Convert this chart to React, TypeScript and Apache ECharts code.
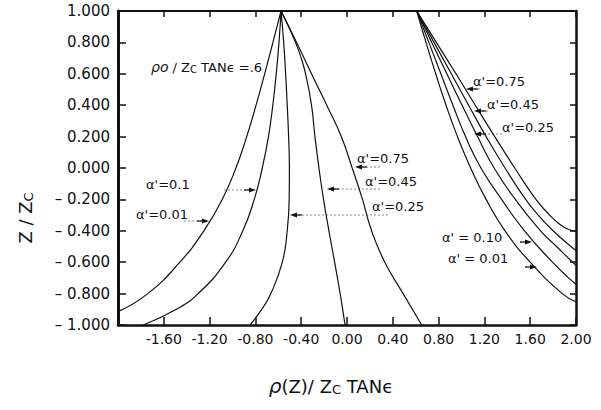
import React, { useEffect, useRef } from "react";
import * as echarts from "echarts";

// ---- axis ticks ----
const X_MIN = -2;
const X_MAX = 2;
const X_STEP = 0.4;
const Y_MIN = -1;
const Y_MAX = 1;
const Y_STEP = 0.2;
const xTickLabels = ["", "-1.60", "-1.20", "-0.80", "-0.40", "0.00", "0.40", "0.80", "1.20", "1.60", "2.00"];
const yTickLabels = ["– 1.000", "– 0.800", "– 0.600", "– 0.400", "– 0.200", "0.000", "0.200", "0.400", "0.600", "0.800", "1.000"];

// ---- left family (apex near rho0 = -0.6), points are [rho/Zc tan e, Z/Zc] ----
const leftA001 = [
  [-0.576, 1.0], [-0.647, 0.8], [-0.719, 0.6], [-0.794, 0.4], [-0.876, 0.2], [-0.97, 0.0],
  [-1.09, -0.2], [-1.25, -0.4], [-1.46, -0.6], [-1.74, -0.8], [-2.0, -0.915],
];
const leftA010 = [
  [-0.576, 1.0], [-0.594, 0.8], [-0.618, 0.6], [-0.648, 0.4], [-0.686, 0.2], [-0.74, 0.0],
  [-0.81, -0.2], [-0.91, -0.4], [-1.06, -0.6], [-1.3, -0.8], [-1.49, -0.9], [-1.78, -1.0],
];
const leftA025 = [
  [-0.576, 1.0], [-0.553, 0.8], [-0.536, 0.6], [-0.522, 0.4], [-0.51, 0.2], [-0.503, 0.0],
  [-0.505, -0.2], [-0.522, -0.4], [-0.565, -0.6], [-0.665, -0.8], [-0.745, -0.9], [-0.847, -1.0],
];
const leftA045 = [
  [-0.576, 1.0], [-0.51, 0.9], [-0.45, 0.8], [-0.4, 0.7], [-0.362, 0.6], [-0.31, 0.4], [-0.28, 0.2],
  [-0.245, 0.0], [-0.205, -0.2], [-0.158, -0.4], [-0.108, -0.6], [-0.06, -0.8], [-0.017, -1.0],
];
const leftA075 = [
  [-0.576, 1.0], [-0.44, 0.8], [-0.31, 0.6], [-0.177, 0.4], [-0.05, 0.2], [0.045, 0.0],
  [0.135, -0.2], [0.215, -0.4], [0.33, -0.6], [0.49, -0.8], [0.652, -1.0],
];

// ---- right family (apex at rho0 = +0.6) ----
const rightA001 = [
  [0.609, 1.0], [0.69, 0.8], [0.775, 0.6], [0.865, 0.4], [0.965, 0.2], [1.08, 0.0],
  [1.215, -0.2], [1.38, -0.4], [1.6, -0.6], [1.88, -0.8], [2.0, -0.852],
];
const rightA010 = [
  [0.609, 1.0], [0.715, 0.8], [0.82, 0.6], [0.925, 0.4], [1.035, 0.2], [1.17, 0.0],
  [1.35, -0.2], [1.55, -0.4], [1.795, -0.6], [1.935, -0.7], [2.0, -0.74],
];
const rightA025 = [
  [0.609, 1.0], [0.74, 0.8], [0.872, 0.6], [1.005, 0.4], [1.14, 0.2], [1.285, 0.0],
  [1.47, -0.2], [1.69, -0.4], [1.83, -0.5], [1.97, -0.6], [2.0, -0.62],
];
const rightA045 = [
  [0.609, 1.0], [0.76, 0.8], [0.911, 0.6], [1.062, 0.4], [1.215, 0.2], [1.38, 0.0],
  [1.56, -0.2], [1.67, -0.3], [1.8, -0.4], [1.955, -0.5], [2.0, -0.525],
];
const rightA075 = [
  [0.609, 1.0], [0.78, 0.8], [0.952, 0.6], [1.12, 0.4], [1.29, 0.2], [1.465, 0.0],
  [1.65, -0.2], [1.77, -0.3], [1.86, -0.36], [1.93, -0.39], [2.0, -0.402],
];

const curves = [
  { name: "left α'=0.01", data: leftA001 },
  { name: "left α'=0.1", data: leftA010 },
  { name: "left α'=0.25", data: leftA025 },
  { name: "left α'=0.45", data: leftA045 },
  { name: "left α'=0.75", data: leftA075 },
  { name: "right α'=0.01", data: rightA001 },
  { name: "right α'=0.10", data: rightA010 },
  { name: "right α'=0.25", data: rightA025 },
  { name: "right α'=0.45", data: rightA045 },
  { name: "right α'=0.75", data: rightA075 },
];

// annotation labels (pixel placement) and arrows
const FONT = "DejaVu Sans";
const INK = "#111";
const labelTexts = [
  { text: "α'=0.1", x: 146, y: 184 },
  { text: "α'=0.01", x: 136, y: 214 },
  { text: "α'=0.75", x: 357, y: 158 },
  { text: "α'=0.45", x: 365, y: 181 },
  { text: "α'=0.25", x: 372, y: 206 },
  { text: "α'=0.75", x: 473, y: 81 },
  { text: "α'=0.45", x: 487, y: 104 },
  { text: "α'=0.25", x: 502, y: 127 },
  { text: "α' = 0.10", x: 442, y: 237 },
  { text: "α' = 0.01", x: 448, y: 258 },
];
const arrows = [
  { from: 224, to: 256, y: 190 },
  { from: 184, to: 209, y: 221 },
  { from: 380, to: 355, y: 167 },
  { from: 380, to: 327, y: 189 },
  { from: 388, to: 290, y: 215 },
  { from: 480, to: 466, y: 89 },
  { from: 488, to: 474, y: 111 },
  { from: 502, to: 474, y: 134 },
  { from: 520, to: 532, y: 242 },
  { from: 525, to: 537, y: 267 },
];

function tok(size: number, extra: any = {}) {
  return { fontSize: size, fontFamily: FONT, fill: INK, color: INK, ...extra };
}

function buildGraphics() {
  const g: any[] = [];
  labelTexts.forEach((l) => {
    g.push({
      type: "text",
      x: l.x,
      y: l.y,
      style: { text: l.text, fill: INK, font: `13px '${FONT}'`, textVerticalAlign: "middle" },
    });
  });
  arrows.forEach((a) => {
    const dir = a.to > a.from ? 1 : -1;
    g.push({
      type: "line",
      shape: { x1: a.from, y1: a.y, x2: a.to - dir * 6, y2: a.y },
      style: { stroke: "#888", lineWidth: 1, lineDash: [2, 2] },
    });
    g.push({
      type: "line",
      shape: { x1: a.to - dir * 12, y1: a.y, x2: a.to - dir * 5, y2: a.y },
      style: { stroke: INK, lineWidth: 1.2 },
    });
    g.push({
      type: "polygon",
      shape: { points: [[a.to, a.y], [a.to - dir * 7, a.y - 2.5], [a.to - dir * 7, a.y + 2.5]] },
      style: { fill: INK },
    });
  });
  // parameter note
  g.push({
    type: "text",
    x: 151,
    y: 67,
    style: {
      text: "{i|ρo}{n| / Z}{s|C}{n| TANϵ =.6}",
      fill: INK,
      textVerticalAlign: "middle",
      rich: {
        i: tok(14, { fontStyle: "italic" }),
        n: tok(13),
        s: tok(10, { padding: [5, 0, 0, 0] }),
      },
    },
  });
  // axis names
  g.push({
    type: "text",
    x: 331,
    y: 386,
    style: {
      text: "{i|ρ}{n|(Z)/ Z}{s|C}{n| TANϵ}",
      fill: INK,
      textAlign: "center",
      textVerticalAlign: "middle",
      rich: {
        i: tok(20, { fontStyle: "italic" }),
        n: tok(18),
        s: tok(13, { padding: [7, 0, 0, 0] }),
      },
    },
  });
  g.push({
    type: "text",
    x: 25,
    y: 218,
    rotation: Math.PI / 2,
    style: {
      text: "{n|Z / Z}{s|C}",
      fill: INK,
      textAlign: "center",
      textVerticalAlign: "middle",
      rich: {
        n: tok(18),
        s: tok(13, { padding: [7, 0, 0, 0] }),
      },
    },
  });
  return g;
}

export default function App() {
  const ref = useRef<HTMLDivElement>(null);
  useEffect(() => {
    if (!ref.current) return;
    const chart = echarts.init(ref.current, null, { renderer: "svg" });
    const idxX = (v: number) => Math.round((v - X_MIN) / X_STEP);
    const idxY = (v: number) => Math.round((v - Y_MIN) / Y_STEP);
    chart.setOption({
      animation: false,
      backgroundColor: "#fff",
      grid: { left: 118, right: 25, top: 11, bottom: 85 },
      xAxis: [
        {
          type: "value",
          position: "bottom",
          min: X_MIN,
          max: X_MAX,
          interval: X_STEP,
          axisLine: { show: true, onZero: false, lineStyle: { color: INK, width: 2.5 } },
          axisTick: { show: true, inside: true, length: 8, lineStyle: { color: INK, width: 1.5 } },
          axisLabel: {
            color: INK, fontSize: 14, fontFamily: FONT, margin: 7,
            formatter: (v: number) => xTickLabels[idxX(v)] ?? "",
          },
          splitLine: { show: false },
        },
        {
          type: "value",
          position: "top",
          min: X_MIN,
          max: X_MAX,
          interval: X_STEP,
          axisLine: { show: true, onZero: false, lineStyle: { color: INK, width: 2 } },
          axisTick: { show: true, inside: true, length: 6, lineStyle: { color: INK, width: 1.5 } },
          axisLabel: { show: false },
          splitLine: { show: false },
        },
      ],
      yAxis: [
        {
          type: "value",
          position: "left",
          min: Y_MIN,
          max: Y_MAX,
          interval: Y_STEP,
          axisLine: { show: true, onZero: false, lineStyle: { color: INK, width: 3 } },
          axisTick: { show: true, inside: true, length: 8, lineStyle: { color: INK, width: 1.5 } },
          axisLabel: {
            color: INK, fontSize: 15, fontFamily: FONT, margin: 8,
            formatter: (v: number) => yTickLabels[idxY(v)] ?? "",
          },
          splitLine: { show: false },
        },
        {
          type: "value",
          position: "right",
          min: Y_MIN,
          max: Y_MAX,
          interval: Y_STEP,
          axisLine: { show: true, onZero: false, lineStyle: { color: INK, width: 2.5 } },
          axisTick: { show: true, inside: true, length: 6, lineStyle: { color: INK, width: 1.5 } },
          axisLabel: { show: false },
          splitLine: { show: false },
        },
      ],
      series: curves.map((c) => ({
        name: c.name,
        type: "line",
        xAxisIndex: 0,
        yAxisIndex: 0,
        data: c.data,
        smooth: 0.5,
        showSymbol: false,
        symbol: "none",
        lineStyle: { color: INK, width: 1.2 },
        silent: true,
      })),
      graphic: buildGraphics(),
    });
    return () => chart.dispose();
  }, []);
  return (
    <div
      ref={ref}
      style={{ position: "absolute", left: 0, top: 0, width: 601, height: 410 }}
    />
  );
}
